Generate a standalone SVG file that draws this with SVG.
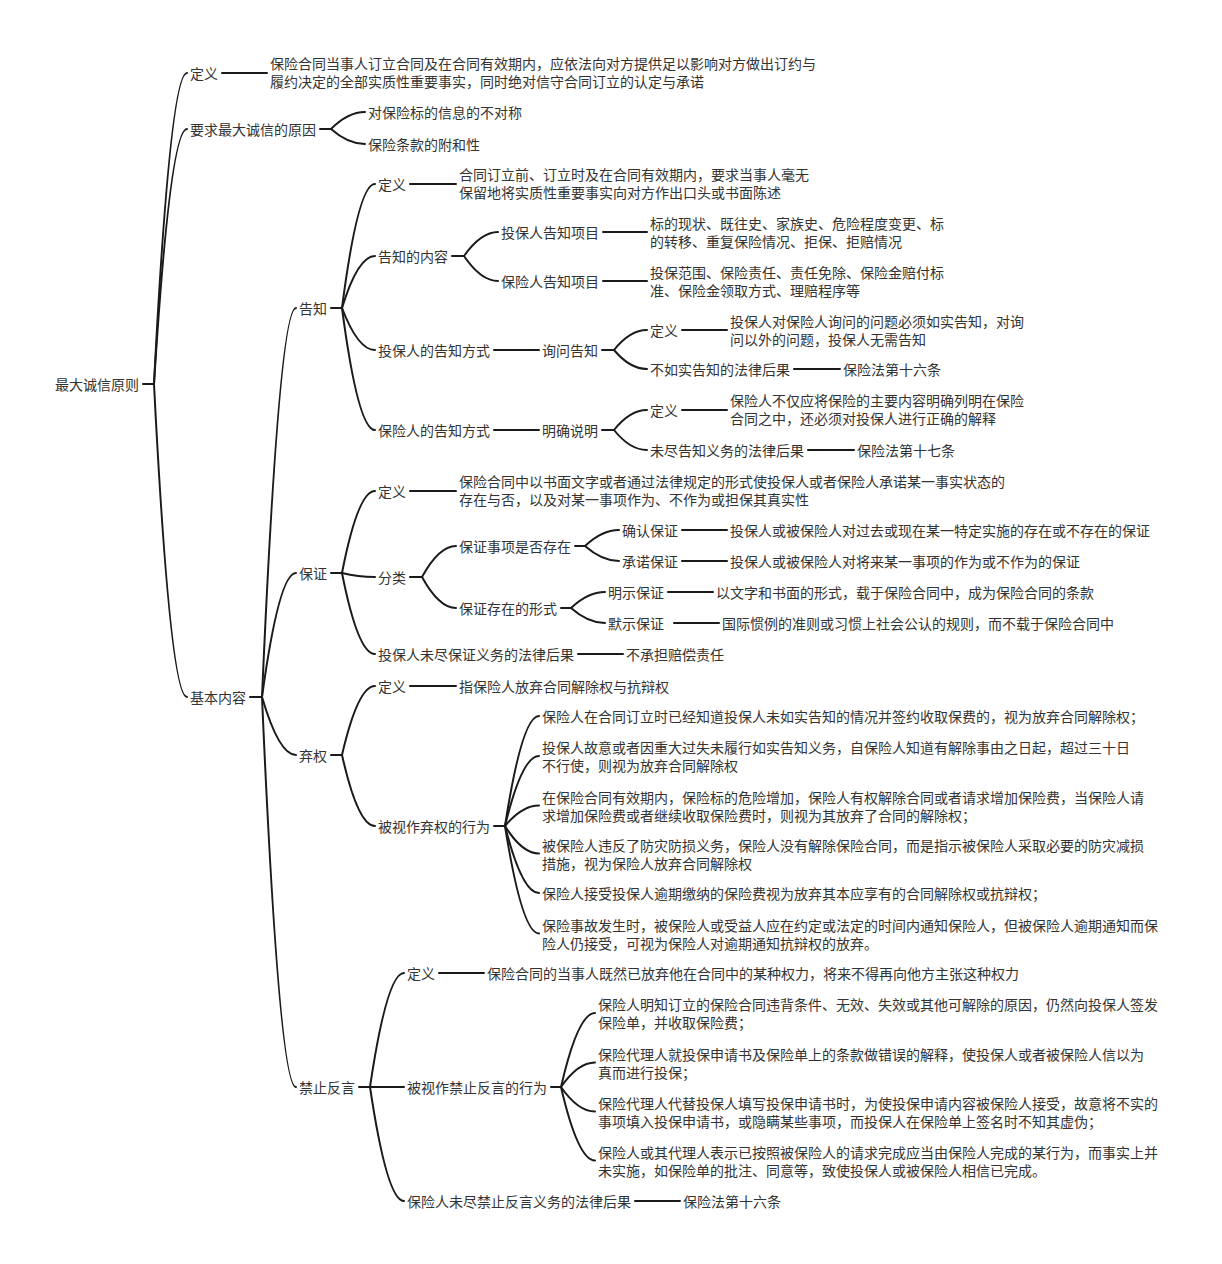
<svg xmlns="http://www.w3.org/2000/svg" width="1222" height="1264" viewBox="0 0 1222 1264">
<style>
text{font-family:"Noto Sans CJK SC","Noto Sans",sans-serif;font-size:14px;fill:#333;dominant-baseline:central}
.c path,.c line{stroke:#1a1a1a;stroke-width:2;fill:none;stroke-linecap:round}
</style>
<rect width="1222" height="1264" fill="#fff"/>
<g class="c" id="connectors">
<line x1="143" y1="384" x2="154" y2="384"/>
<path d="M154 384 Q170 73 187 73"/>
<path d="M154 384 Q170 129 187 129"/>
<path d="M154 384 Q170 697 187 697"/>
<line x1="222" y1="73" x2="267" y2="73"/>
<line x1="320" y1="129" x2="331" y2="129"/>
<path d="M331 129 Q348 112 365 112"/>
<path d="M331 129 Q348 144 365 144"/>
<line x1="250" y1="697" x2="262" y2="697"/>
<path d="M262 697 Q279 308 296 308"/>
<path d="M262 697 Q279 573 296 573"/>
<path d="M262 697 Q279 755 296 755"/>
<path d="M262 697 Q279 1087 296 1087"/>
<line x1="331" y1="308" x2="342" y2="308"/>
<path d="M342 308 Q358 184 375 184"/>
<path d="M342 308 Q358 256 375 256"/>
<path d="M342 308 Q358 350 375 350"/>
<path d="M342 308 Q358 430 375 430"/>
<line x1="410" y1="184" x2="456" y2="184"/>
<line x1="452" y1="256" x2="464" y2="256"/>
<path d="M464 256 Q481 232 498 232"/>
<path d="M464 256 Q481 281 498 281"/>
<line x1="603" y1="232" x2="647" y2="232"/>
<line x1="603" y1="281" x2="647" y2="281"/>
<line x1="494" y1="350" x2="539" y2="350"/>
<line x1="602" y1="350" x2="614" y2="350"/>
<path d="M614 350 Q630 330 647 330"/>
<path d="M614 350 Q630 369 647 369"/>
<line x1="682" y1="330" x2="727" y2="330"/>
<line x1="794" y1="369" x2="840" y2="369"/>
<line x1="494" y1="430" x2="539" y2="430"/>
<line x1="602" y1="430" x2="614" y2="430"/>
<path d="M614 430 Q630 410 647 410"/>
<path d="M614 430 Q630 450 647 450"/>
<line x1="682" y1="410" x2="727" y2="410"/>
<line x1="808" y1="450" x2="854" y2="450"/>
<line x1="331" y1="573" x2="342" y2="573"/>
<path d="M342 573 Q358 491 375 491"/>
<path d="M342 573 Q358 577 375 577"/>
<path d="M342 573 Q358 654 375 654"/>
<line x1="410" y1="491" x2="456" y2="491"/>
<line x1="410" y1="577" x2="422" y2="577"/>
<path d="M422 577 Q439 546 456 546"/>
<path d="M422 577 Q439 608 456 608"/>
<line x1="575" y1="546" x2="585" y2="546"/>
<path d="M585 546 Q602 530 619 530"/>
<path d="M585 546 Q602 561 619 561"/>
<line x1="682" y1="530" x2="727" y2="530"/>
<line x1="682" y1="561" x2="727" y2="561"/>
<line x1="561" y1="608" x2="571" y2="608"/>
<path d="M571 608 Q588 592 605 592"/>
<path d="M571 608 Q588 623 605 623"/>
<line x1="668" y1="592" x2="713" y2="592"/>
<line x1="674" y1="623" x2="719" y2="623"/>
<line x1="578" y1="654" x2="623" y2="654"/>
<line x1="331" y1="755" x2="342" y2="755"/>
<path d="M342 755 Q358 686 375 686"/>
<path d="M342 755 Q358 826 375 826"/>
<line x1="410" y1="686" x2="456" y2="686"/>
<line x1="494" y1="826" x2="505" y2="826"/>
<path d="M505 826 Q522 716 539 716"/>
<path d="M505 826 Q522 756 539 756"/>
<path d="M505 826 Q522 805.5 539 805.5"/>
<path d="M505 826 Q522 853.5 539 853.5"/>
<path d="M505 826 Q522 893 539 893"/>
<path d="M505 826 Q522 933.5 539 933.5"/>
<line x1="359" y1="1087" x2="370" y2="1087"/>
<path d="M370 1087 Q387 973 404 973"/>
<path d="M370 1087 Q387 1087 404 1087"/>
<path d="M370 1087 Q387 1201 404 1201"/>
<line x1="439" y1="973" x2="484" y2="973"/>
<line x1="551" y1="1087" x2="561" y2="1087"/>
<path d="M561 1087 Q578 1013 595 1013"/>
<path d="M561 1087 Q578 1062.5 595 1062.5"/>
<path d="M561 1087 Q578 1111.5 595 1111.5"/>
<path d="M561 1087 Q578 1160.5 595 1160.5"/>
<line x1="635" y1="1201" x2="680" y2="1201"/>
</g>

<g id="node-root"><text x="55" y="384">最大诚信原则</text></g>
<g id="node-def"><text x="190" y="73">定义</text></g>
<g id="node-def-text"><text x="270" y="63">保险合同当事人订立合同及在合同有效期内，应依法向对方提供足以影响对方做出订约与<tspan x="270" dy="18">履约决定的全部实质性重要事实，同时绝对信守合同订立的认定与承诺</tspan></text></g>
<g id="node-reason"><text x="190" y="129">要求最大诚信的原因</text></g>
<g id="node-reason-1"><text x="368" y="112">对保险标的信息的不对称</text></g>
<g id="node-reason-2"><text x="368" y="144">保险条款的附和性</text></g>
<g id="node-basic"><text x="190" y="697">基本内容</text></g>

<g id="node-gaozhi"><text x="299" y="308">告知</text></g>
<g id="node-gaozhi-def"><text x="378" y="184">定义</text></g>
<g id="node-gaozhi-def-text"><text x="459" y="174">合同订立前、订立时及在合同有效期内，要求当事人毫无<tspan x="459" dy="17.5">保留地将实质性重要事实向对方作出口头或书面陈述</tspan></text></g>
<g id="node-gaozhi-content"><text x="378" y="256">告知的内容</text></g>
<g id="node-tbr-items"><text x="501" y="232">投保人告知项目</text></g>
<g id="node-tbr-items-text"><text x="650" y="223">标的现状、既往史、家族史、危险程度变更、标<tspan x="650" dy="18">的转移、重复保险情况、拒保、拒赔情况</tspan></text></g>
<g id="node-bxr-items"><text x="501" y="281">保险人告知项目</text></g>
<g id="node-bxr-items-text"><text x="650" y="272">投保范围、保险责任、责任免除、保险金赔付标<tspan x="650" dy="18">准、保险金领取方式、理赔程序等</tspan></text></g>
<g id="node-tbr-way"><text x="378" y="350">投保人的告知方式</text></g>
<g id="node-xunwen"><text x="542" y="350">询问告知</text></g>
<g id="node-xunwen-def"><text x="650" y="330">定义</text></g>
<g id="node-xunwen-def-text"><text x="730" y="321">投保人对保险人询问的问题必须如实告知，对询<tspan x="730" dy="18">问以外的问题，投保人无需告知</tspan></text></g>
<g id="node-xunwen-law"><text x="650" y="369">不如实告知的法律后果</text></g>
<g id="node-xunwen-law-text"><text x="843" y="369">保险法第十六条</text></g>
<g id="node-bxr-way"><text x="378" y="430">保险人的告知方式</text></g>
<g id="node-mingque"><text x="542" y="430">明确说明</text></g>
<g id="node-mingque-def"><text x="650" y="410">定义</text></g>
<g id="node-mingque-def-text"><text x="730" y="400">保险人不仅应将保险的主要内容明确列明在保险<tspan x="730" dy="18">合同之中，还必须对投保人进行正确的解释</tspan></text></g>
<g id="node-mingque-law"><text x="650" y="450">未尽告知义务的法律后果</text></g>
<g id="node-mingque-law-text"><text x="857" y="450">保险法第十七条</text></g>

<g id="node-baozheng"><text x="299" y="573">保证</text></g>
<g id="node-bz-def"><text x="378" y="491">定义</text></g>
<g id="node-bz-def-text"><text x="459" y="481">保险合同中以书面文字或者通过法律规定的形式使投保人或者保险人承诺某一事实状态的<tspan x="459" dy="17.5">存在与否，以及对某一事项作为、不作为或担保其真实性</tspan></text></g>
<g id="node-bz-class"><text x="378" y="577">分类</text></g>
<g id="node-bz-exist"><text x="459" y="546">保证事项是否存在</text></g>
<g id="node-bz-confirm"><text x="622" y="530">确认保证</text></g>
<g id="node-bz-confirm-text"><text x="730" y="530">投保人或被保险人对过去或现在某一特定实施的存在或不存在的保证</text></g>
<g id="node-bz-promise"><text x="622" y="561">承诺保证</text></g>
<g id="node-bz-promise-text"><text x="730" y="561">投保人或被保险人对将来某一事项的作为或不作为的保证</text></g>
<g id="node-bz-form"><text x="459" y="608">保证存在的形式</text></g>
<g id="node-bz-express"><text x="608" y="592">明示保证</text></g>
<g id="node-bz-express-text"><text x="716" y="592">以文字和书面的形式，载于保险合同中，成为保险合同的条款</text></g>
<g id="node-bz-implied"><text x="608" y="623">默示保证</text></g>
<g id="node-bz-implied-text"><text x="722" y="623">国际惯例的准则或习惯上社会公认的规则，而不载于保险合同中</text></g>
<g id="node-bz-law"><text x="378" y="654">投保人未尽保证义务的法律后果</text></g>
<g id="node-bz-law-text"><text x="626" y="654">不承担赔偿责任</text></g>

<g id="node-qiquan"><text x="299" y="755">弃权</text></g>
<g id="node-qq-def"><text x="378" y="686">定义</text></g>
<g id="node-qq-def-text"><text x="459" y="686">指保险人放弃合同解除权与抗辩权</text></g>
<g id="node-qq-acts"><text x="378" y="826">被视作弃权的行为</text></g>
<g id="node-qq-1"><text x="542" y="716">保险人在合同订立时已经知道投保人未如实告知的情况并签约收取保费的，视为放弃合同解除权；</text></g>
<g id="node-qq-2"><text x="542" y="747">投保人故意或者因重大过失未履行如实告知义务，自保险人知道有解除事由之日起，超过三十日<tspan x="542" dy="18">不行使，则视为放弃合同解除权</tspan></text></g>
<g id="node-qq-3"><text x="542" y="797">在保险合同有效期内，保险标的危险增加，保险人有权解除合同或者请求增加保险费，当保险人请<tspan x="542" dy="17.5">求增加保险费或者继续收取保险费时，则视为其放弃了合同的解除权；</tspan></text></g>
<g id="node-qq-4"><text x="542" y="845">被保险人违反了防灾防损义务，保险人没有解除保险合同，而是指示被保险人采取必要的防灾减损<tspan x="542" dy="17.5">措施，视为保险人放弃合同解除权</tspan></text></g>
<g id="node-qq-5"><text x="542" y="893">保险人接受投保人逾期缴纳的保险费视为放弃其本应享有的合同解除权或抗辩权；</text></g>
<g id="node-qq-6"><text x="542" y="925">保险事故发生时，被保险人或受益人应在约定或法定的时间内通知保险人，但被保险人逾期通知而保<tspan x="542" dy="17.5">险人仍接受，可视为保险人对逾期通知抗辩权的放弃。</tspan></text></g>

<g id="node-jzfy"><text x="299" y="1087">禁止反言</text></g>
<g id="node-jz-def"><text x="407" y="973">定义</text></g>
<g id="node-jz-def-text"><text x="487" y="973">保险合同的当事人既然已放弃他在合同中的某种权力，将来不得再向他方主张这种权力</text></g>
<g id="node-jz-acts"><text x="407" y="1087">被视作禁止反言的行为</text></g>
<g id="node-jz-1"><text x="598" y="1004">保险人明知订立的保险合同违背条件、无效、失效或其他可解除的原因，仍然向投保人签发<tspan x="598" dy="18">保险单，并收取保险费；</tspan></text></g>
<g id="node-jz-2"><text x="598" y="1054">保险代理人就投保申请书及保险单上的条款做错误的解释，使投保人或者被保险人信以为<tspan x="598" dy="17.5">真而进行投保；</tspan></text></g>
<g id="node-jz-3"><text x="598" y="1103">保险代理人代替投保人填写投保申请书时，为使投保申请内容被保险人接受，故意将不实的<tspan x="598" dy="17.5">事项填入投保申请书，或隐瞒某些事项，而投保人在保险单上签名时不知其虚伪；</tspan></text></g>
<g id="node-jz-4"><text x="598" y="1152">保险人或其代理人表示已按照被保险人的请求完成应当由保险人完成的某行为，而事实上并<tspan x="598" dy="17.5">未实施，如保险单的批注、同意等，致使投保人或被保险人相信已完成。</tspan></text></g>
<g id="node-jz-law"><text x="407" y="1201">保险人未尽禁止反言义务的法律后果</text></g>
<g id="node-jz-law-text"><text x="683" y="1201">保险法第十六条</text></g>
</svg>
